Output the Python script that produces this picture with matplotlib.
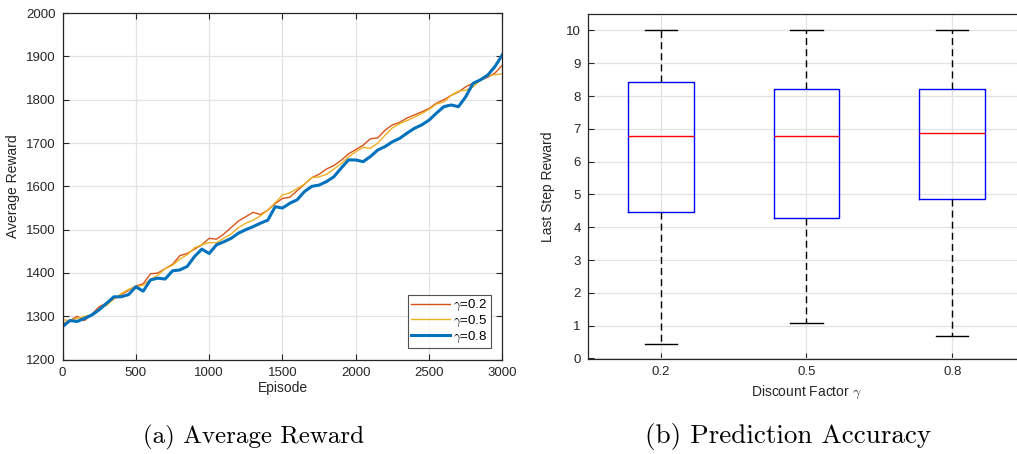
import matplotlib
matplotlib.use('Agg')
import matplotlib.pyplot as plt

# ---- data ----
episodes = list(range(0, 3001, 50))

reward_g02 = [1282, 1290, 1300, 1290, 1305, 1322, 1330, 1340, 1350, 1360,
              1370, 1375, 1398, 1400, 1410, 1420, 1440, 1445, 1455, 1465,
              1480, 1478, 1490, 1505, 1520, 1530, 1540, 1535, 1545, 1560,
              1572, 1575, 1590, 1605, 1620, 1628, 1640, 1648, 1660, 1675,
              1685, 1695, 1710, 1712, 1730, 1742, 1748, 1758, 1765, 1772,
              1780, 1792, 1800, 1810, 1818, 1830, 1838, 1845, 1852, 1862,
              1880]

reward_g05 = [1292, 1290, 1295, 1300, 1303, 1318, 1325, 1340, 1352, 1362,
              1368, 1372, 1385, 1395, 1410, 1418, 1432, 1442, 1458, 1465,
              1470, 1470, 1480, 1490, 1505, 1515, 1522, 1532, 1545, 1562,
              1580, 1585, 1595, 1605, 1620, 1622, 1628, 1640, 1652, 1668,
              1680, 1690, 1688, 1700, 1718, 1735, 1745, 1752, 1760, 1768,
              1778, 1790, 1795, 1810, 1820, 1822, 1830, 1845, 1855, 1858,
              1860]

reward_g08 = [1276, 1290, 1288, 1295, 1303, 1315, 1330, 1345, 1345, 1350,
              1368, 1358, 1384, 1388, 1386, 1405, 1407, 1415, 1438, 1455,
              1445, 1465, 1472, 1480, 1492, 1500, 1507, 1515, 1522, 1553,
              1550, 1561, 1569, 1588, 1600, 1603, 1611, 1622, 1642, 1661,
              1661, 1657, 1669, 1684, 1692, 1703, 1711, 1723, 1734, 1742,
              1753, 1769, 1784, 1788, 1784, 1807, 1838, 1846, 1857, 1877,
              1904]

gamma_labels = ['0.2', '0.5', '0.8']
box_q1 = [4.47, 4.28, 4.86]
box_med = [6.78, 6.78, 6.88]
box_q3 = [8.42, 8.22, 8.22]
whisker_lo = [0.43, 1.07, 0.67]
whisker_hi = [10.0, 10.0, 10.0]

# ---- style ----
plt.rcParams['font.family'] = ['Liberation Sans', 'DejaVu Sans']
plt.rcParams['mathtext.fontset'] = 'cm'
dark = '#262626'
grid_c = '#e3e3e3'

fig = plt.figure(figsize=(10.17, 4.54), dpi=100)


def style_axes(ax):
    ax.grid(True, color=grid_c, linewidth=0.9)
    ax.set_axisbelow(True)
    for sp in ax.spines.values():
        sp.set_color(dark)
        sp.set_linewidth(0.9)
    ax.tick_params(direction='in', top=True, right=True, length=4,
                   width=0.8, colors=dark, labelsize=9.5, pad=5)


# (a) average reward
ax1 = fig.add_axes([0.0615, 0.208, 0.4325, 0.763])
ax1.plot(episodes, reward_g02, color='#D95319', lw=1.0, label=r'$\gamma$=0.2')
ax1.plot(episodes, reward_g05, color='#EDB120', lw=1.0, label=r'$\gamma$=0.5')
ax1.plot(episodes, reward_g08, color='#0072BD', lw=2.2, label=r'$\gamma$=0.8')
ax1.set_xlim(0, 3000)
ax1.set_ylim(1200, 2000)
ax1.set_xticks(range(0, 3001, 500))
ax1.set_yticks(range(1200, 2001, 100))
style_axes(ax1)
ax1.set_xlabel('Episode', fontsize=10, color=dark, labelpad=2)
ax1.set_ylabel('Average Reward', fontsize=10, color=dark, labelpad=4)
leg = ax1.legend(loc='lower right', fontsize=9.5, frameon=True, fancybox=False,
                 borderaxespad=0.9, handlelength=3.0, handletextpad=0.25,
                 borderpad=0.2, labelspacing=0.05)
leg.get_frame().set_edgecolor(dark)
leg.get_frame().set_linewidth(0.8)

# (b) box plot
ax2 = fig.add_axes([0.578, 0.209, 0.43, 0.76])
stats = []
for i in range(len(gamma_labels)):
    stats.append({'q1': box_q1[i], 'med': box_med[i], 'q3': box_q3[i],
                  'whislo': whisker_lo[i], 'whishi': whisker_hi[i],
                  'fliers': [], 'label': gamma_labels[i]})
ax2.bxp(stats, positions=[1, 2, 3], widths=0.45, showfliers=False,
        boxprops=dict(color='blue', linewidth=1.0),
        medianprops=dict(color='red', linewidth=1.0),
        whiskerprops=dict(color='black', linestyle=(0, (5, 3)), linewidth=1.0),
        capprops=dict(color='black', linewidth=1.0),
        capwidths=0.22)
ax2.set_xlim(0.5, 3.5)
ax2.set_ylim(-0.02, 10.5)
ax2.set_yticks(range(0, 11))
style_axes(ax2)
ax2.tick_params(right=False, top=False)
ax2.spines['right'].set_visible(False)
ax2.set_xlabel(r'Discount Factor $\gamma$', fontsize=10, color=dark, labelpad=4)
ax2.set_ylabel('Last Step Reward', fontsize=10, color=dark, labelpad=8)

# captions
fig.text(0.249, 0.024, '(a) Average Reward', family='cmr10', fontsize=18,
         ha='center', va='baseline')
fig.text(0.775, 0.024, '(b) Prediction Accuracy', family='cmr10', fontsize=19.5,
         ha='center', va='baseline')

fig.savefig('out.png', dpi=100)
